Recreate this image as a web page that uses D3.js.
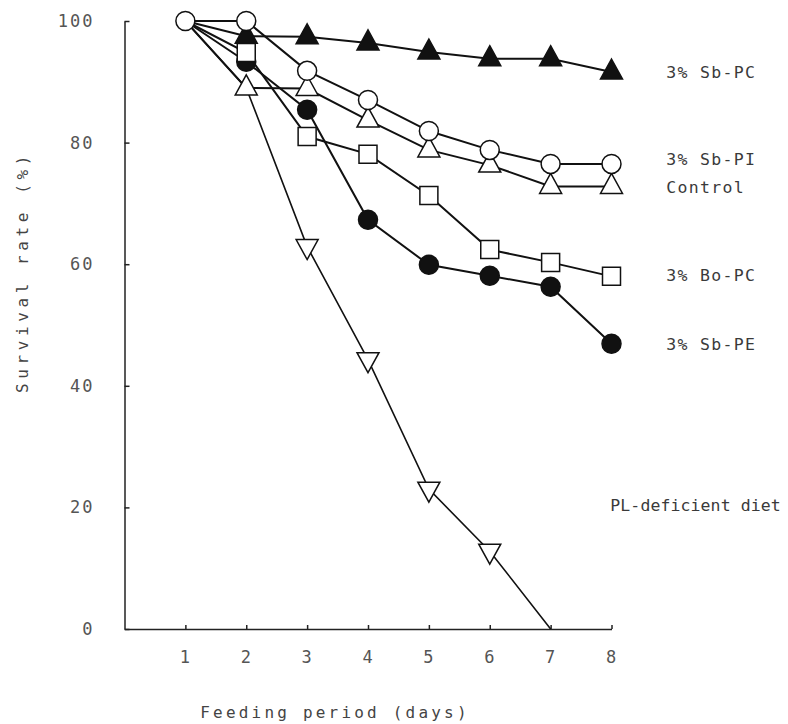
<!DOCTYPE html>
<html>
<head>
<meta charset="utf-8">
<script src="https://cdn.jsdelivr.net/npm/d3@7"></script>
<style>
  body { margin: 0; background: #fff; }
  svg { display: block; }
  .axis path, .axis line { stroke: #222; stroke-width: 1.5; }
  .axis text { font-family: "DejaVu Sans Mono", monospace; font-size: 17px; fill: #555; letter-spacing: 2px; }
  .label { font-family: "DejaVu Sans Mono", monospace; font-size: 16.5px; fill: #3a3a3a; letter-spacing: 1.3px; }
  .title { font-family: "DejaVu Sans Mono", monospace; font-size: 16px; fill: #444; letter-spacing: 3.2px; }
</style>
</head>
<body>
<svg width="788" height="724"></svg>
<script>
var days = [1, 2, 3, 4, 5, 6, 7, 8];

var sbPC    = [100, 97.5, 97.4, 96.4, 94.9, 93.8, 93.8, 91.6];
var sbPI    = [100, 100, 91.8, 87.0, 81.9, 78.8, 76.5, 76.5];
var control = [100, 89.0, 88.9, 83.7, 78.8, 76.3, 72.8, 72.8];
var boPC    = [100, 94.8, 81.0, 78.1, 71.3, 62.4, 60.3, 58.0];
var sbPE    = [100, 93.3, 85.4, 67.3, 59.9, 58.1, 56.3, 46.9];
var plDef   = [100, 89.0, 62.9, 44.3, 23.0, 12.8, 0];

var yTicks = [0, 20, 40, 60, 80, 100];
var xTicks = [1, 2, 3, 4, 5, 6, 7, 8];

// series, drawing order (last drawn on top); markers drawn from day markFrom on
var series = [
  {name: "PL-deficient diet", values: plDef,   marker: "triDown", filled: false, markFrom: 3, labelDay: 7.98, labelAt: 20.3},
  {name: "3% Sb-PE",          values: sbPE,    marker: "circle",  filled: true,  markFrom: 2, labelDay: 8.9,  labelAt: 46.9},
  {name: "3% Bo-PC",          values: boPC,    marker: "square",  filled: false, markFrom: 2, labelDay: 8.9,  labelAt: 58.2},
  {name: "Control",           values: control, marker: "triUp",   filled: false, markFrom: 2, labelDay: 8.9,  labelAt: 72.6},
  {name: "3% Sb-PC",          values: sbPC,    marker: "triUp",   filled: true,  markFrom: 2, labelDay: 8.9,  labelAt: 91.6},
  {name: "3% Sb-PI",          values: sbPI,    marker: "circle",  filled: false, markFrom: 1, labelDay: 8.9,  labelAt: 77.3}
];

var svg = d3.select("svg");

var x = d3.scaleLinear().domain([0, 8]).range([124.5, 611.5]);
var y = d3.scaleLinear().domain([0, 100]).range([629, 21]);

svg.append("g")
    .attr("class", "axis axis--x")
    .attr("transform", "translate(0," + y(0) + ")")
    .call(d3.axisBottom(x).tickValues(xTicks).tickSize(-4).tickSizeOuter(0).tickPadding(22));

svg.append("g")
    .attr("class", "axis axis--y")
    .attr("transform", "translate(" + x(0) + ",0)")
    .call(d3.axisLeft(y).tickValues(yTicks).tickSize(-5).tickSizeOuter(0).tickPadding(30));

var line = d3.line()
    .x(function(d) { return x(d[0]); })
    .y(function(d) { return y(d[1]); });

var pts = function(s) {
  return s.values.map(function(v, i) { return [days[i], v]; });
};

svg.append("g")
  .selectAll("path")
  .data(series)
  .enter().append("path")
    .attr("fill", "none")
    .attr("stroke", "#111")
    .attr("stroke-width", function(d) { return d.marker === "triDown" ? 1.6 : 2; })
    .attr("d", function(d) { return line(pts(d)); });

function markerPath(type) {
  var p = d3.path();
  if (type === "square") {
    p.rect(-9, -9, 18, 18);
  } else if (type === "triUp") {
    p.moveTo(0, -13); p.lineTo(11, 7); p.lineTo(-11, 7); p.closePath();
  } else if (type === "triDown") {
    p.moveTo(0, 13); p.lineTo(11, -7); p.lineTo(-11, -7); p.closePath();
  } else {
    p.arc(0, 0, 9.5, 0, 2 * Math.PI);
  }
  return p.toString();
}

series.forEach(function(s) {
  svg.append("g")
    .selectAll("path")
    .data(pts(s).filter(function(d) { return d[1] > 0 && d[0] >= s.markFrom; }))
    .enter().append("path")
      .attr("transform", function(d) { return "translate(" + x(d[0]) + "," + y(d[1]) + ")"; })
      .attr("d", markerPath(s.marker))
      .attr("fill", s.filled ? "#111" : "#fff")
      .attr("stroke", "#111")
      .attr("stroke-width", 1.5);
});

svg.append("g")
  .selectAll("text")
  .data(series)
  .enter().append("text")
    .attr("class", "label")
    .attr("x", function(d) { return x(d.labelDay); })
    .attr("y", function(d) { return y(d.labelAt); })
    .attr("dy", "0.35em")
    .style("letter-spacing", function(d) { return d.name.length > 10 ? "0.1px" : null; })
    .text(function(d) { return d.name; });

svg.append("text")
    .attr("class", "title")
    .attr("x", 335)
    .attr("y", 712)
    .attr("text-anchor", "middle")
    .attr("dy", "0.35em")
    .text("Feeding period (days)");

svg.append("text")
    .attr("class", "title")
    .attr("transform", "translate(22,272) rotate(-90)")
    .attr("text-anchor", "middle")
    .attr("dy", "0.35em")
    .style("letter-spacing", "4.6px")
    .text("Survival rate (%)");
</script>
</body>
</html>
